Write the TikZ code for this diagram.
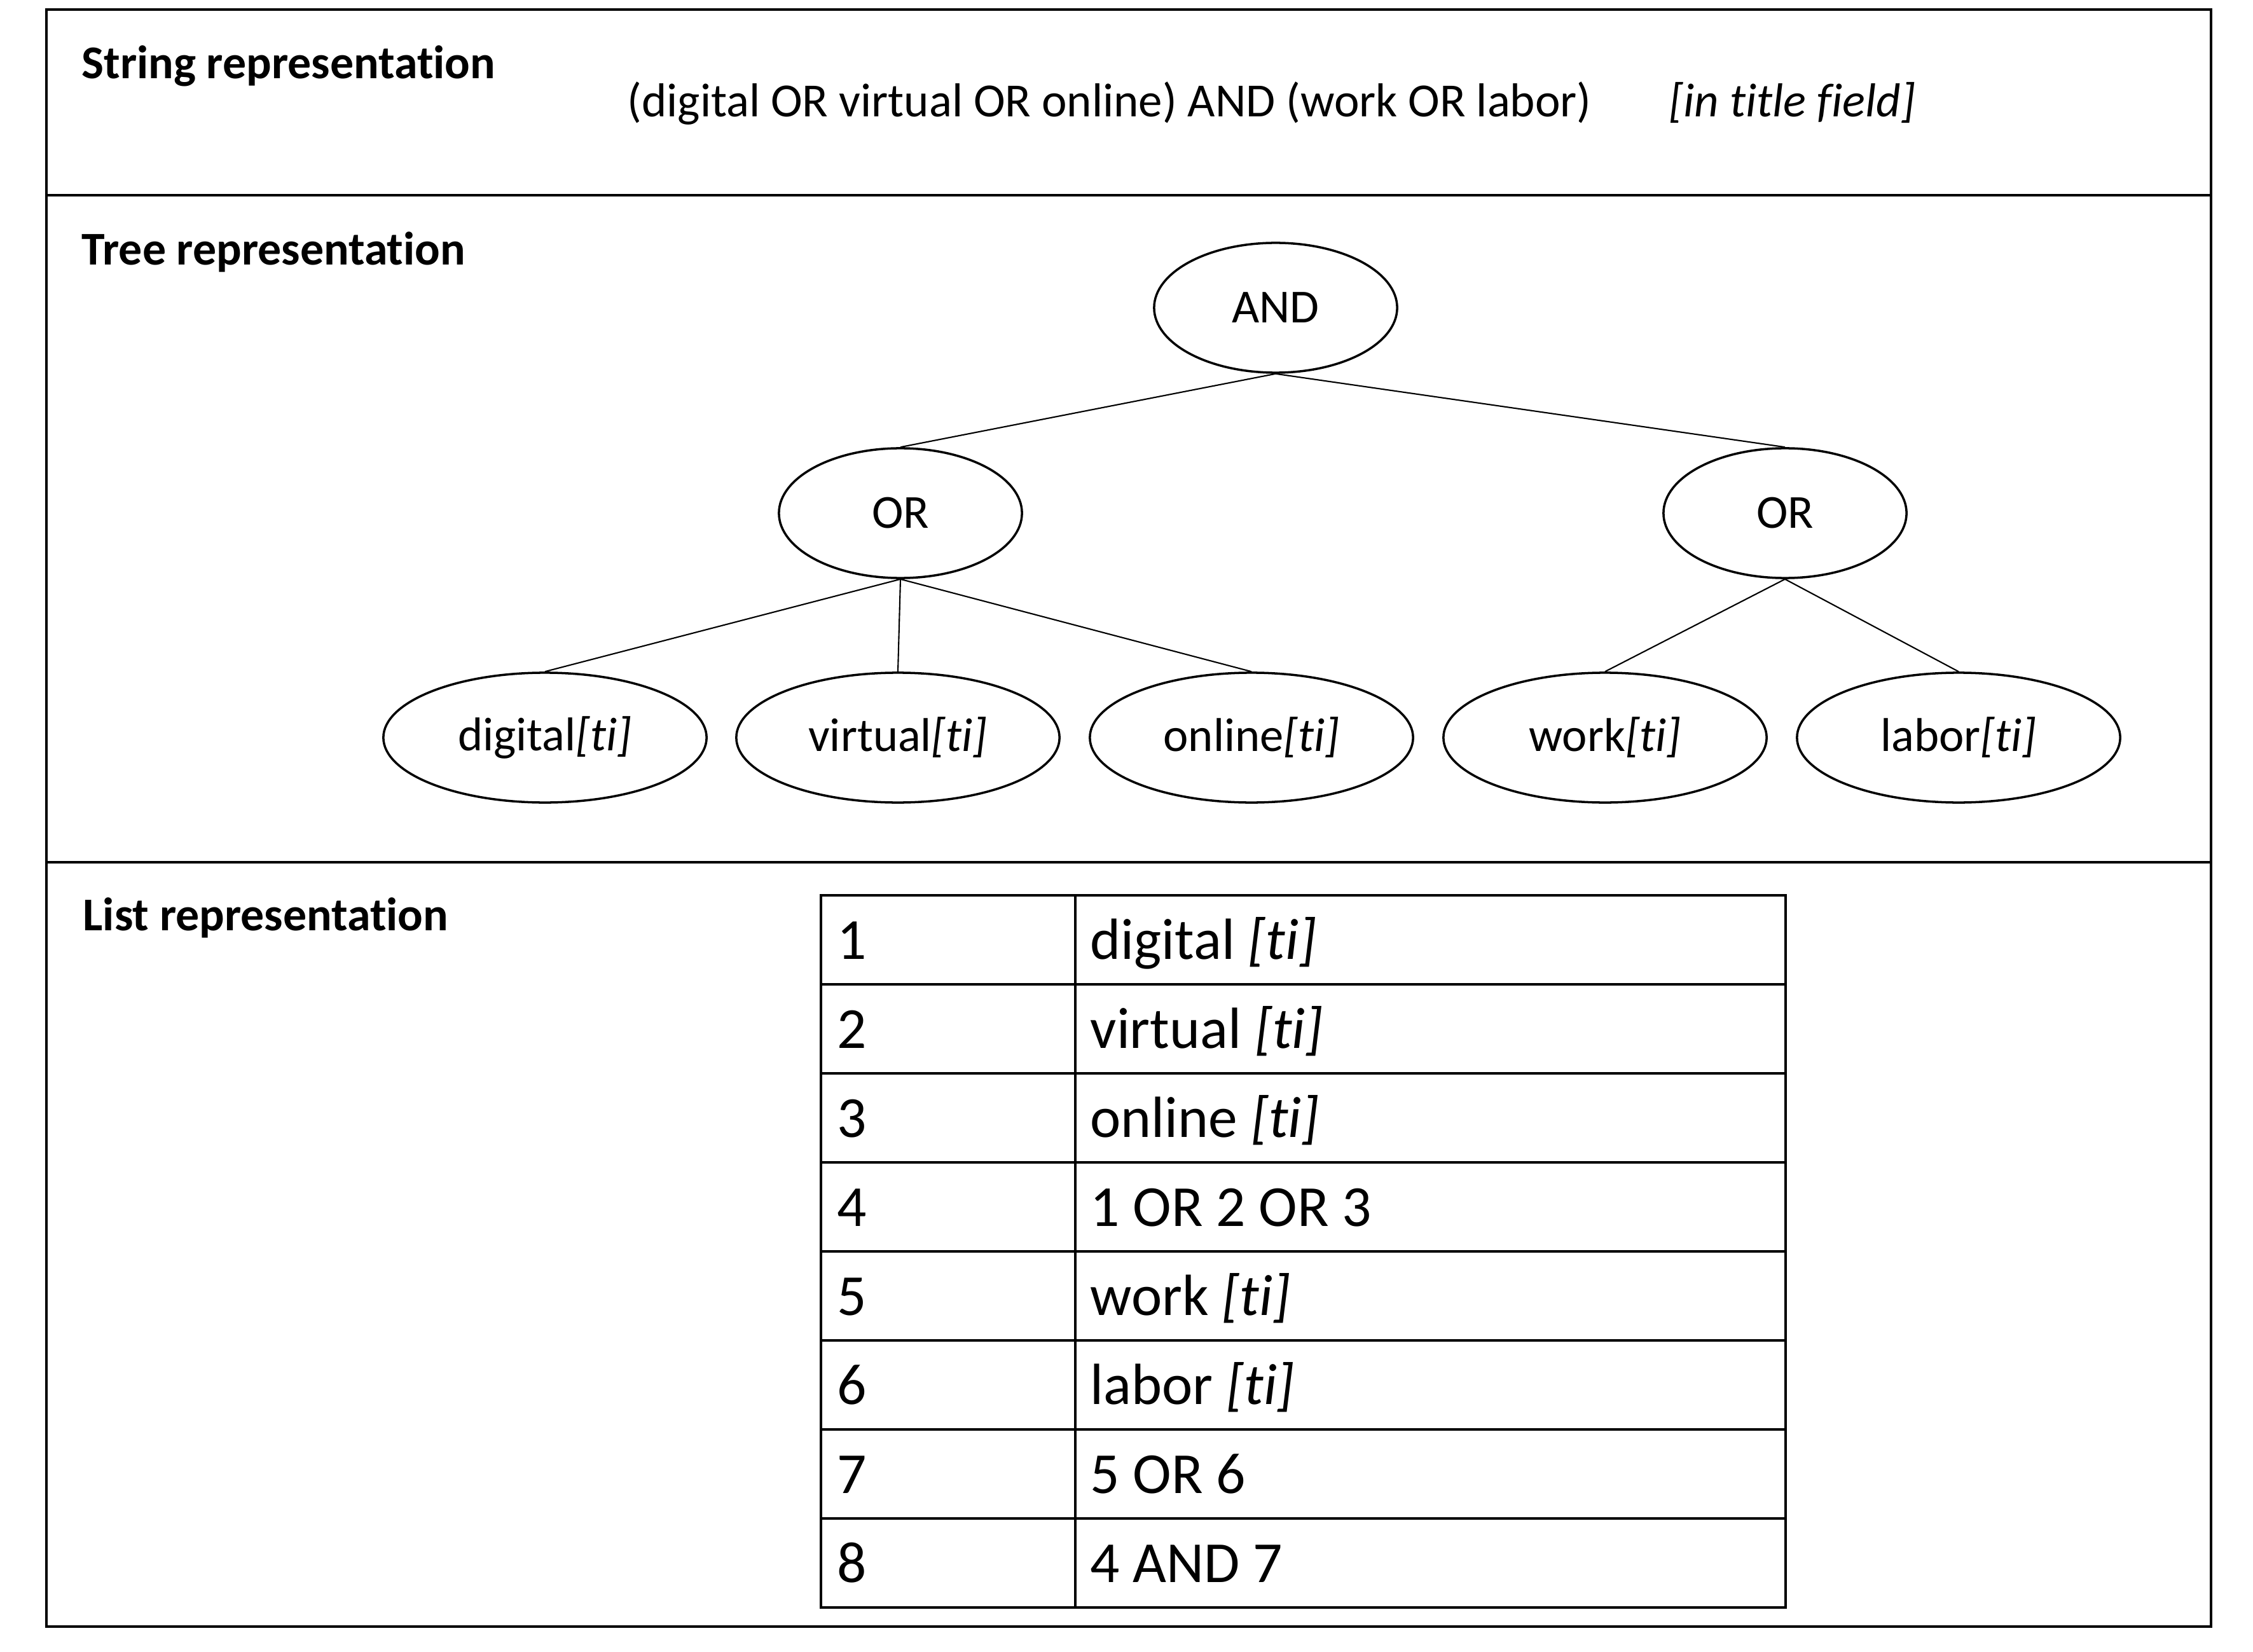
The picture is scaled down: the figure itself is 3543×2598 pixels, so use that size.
\documentclass[tikz,border=0pt]{standalone}
\usepackage{fontspec}
\setmainfont{Carlito}[Ligatures=CommonOff]
\usetikzlibrary{shapes.geometric}
\begin{document}
\begin{tikzpicture}[x=0.01cm,y=-0.01cm,
  frame/.style={line width=1.3pt},
  ttl/.style={anchor=base west,inner sep=0,font=\fontsize{21}{25}\selectfont\bfseries},
  txt/.style={anchor=base west,inner sep=0,font=\fontsize{21.3}{25}\selectfont},
  opnode/.style={draw,ellipse,line width=1pt,inner sep=0,minimum width=3.82cm,minimum height=2.04cm,font=\fontsize{21.2}{25}\selectfont},
  leaf/.style={opnode,minimum width=5.08cm},
  link/.style={line width=0.6pt},
  grid/.style={line width=1.1pt},
  cell/.style={anchor=base west,inner sep=0,font=\fontsize{26}{31}\selectfont}]
\useasboundingbox (0,0) rectangle (3543,2598);
% frame
\draw[frame] (73,15) rectangle (3477,2558);
\draw[frame] (73,307) -- (3477,307);
\draw[frame] (73,1356) -- (3477,1356);
% titles
\node[ttl] (t1) at (128,124) {String representation};
\node[ttl] (t2) at (128,417) {Tree representation};
\node[ttl] (t3) at (130,1463) {List representation};
% string
\node[txt] (s1) at (986,184) {(digital OR virtual OR online) AND (work OR labor)};
\node[txt] (s2) at (2624,184) {\itshape [in title field]};
% tree
\node[opnode] (and) at (2006,484) {AND};
\node[opnode] (or1) at (1416,807) {OR};
\node[opnode] (or2) at (2807,807) {OR};
\node[leaf] (l1) at (857,1160) {digital\textit{[ti]}};
\node[leaf] (l2) at (1412,1160) {virtual\textit{[ti]}};
\node[leaf] (l3) at (1968,1160) {online\textit{[ti]}};
\node[leaf] (l4) at (2524,1160) {work\textit{[ti]}};
\node[leaf] (l5) at (3080,1160) {labor\textit{[ti]}};
\draw[link] (and.south) -- (or1.north);
\draw[link] (and.south) -- (or2.north);
\draw[link] (or1.south) -- (l1.north);
\draw[link] (or1.south) -- (l2.north);
\draw[link] (or1.south) -- (l3.north);
\draw[link] (or2.south) -- (l4.north);
\draw[link] (or2.south) -- (l5.north);
% table
\draw[grid] (1291,1408) rectangle (2808,2528);
\draw[grid] (1691,1408) -- (1691,2528);
\foreach \r in {1,...,7}{\draw[grid] (1291,1408+\r*140) -- (2808,1408+\r*140);}
\node[cell] (n1) at (1316,1508) {1};
\node[cell] (v1) at (1714,1508) {digital \textit{[ti]}};
\node[cell] (n2) at (1316,1648) {2};
\node[cell] (v2) at (1714,1648) {virtual \textit{[ti]}};
\node[cell] (n3) at (1316,1788) {3};
\node[cell] (v3) at (1714,1788) {online \textit{[ti]}};
\node[cell] (n4) at (1316,1928) {4};
\node[cell] (v4) at (1714,1928) {1 OR 2 OR 3};
\node[cell] (n5) at (1316,2068) {5};
\node[cell] (v5) at (1714,2068) {work \textit{[ti]}};
\node[cell] (n6) at (1316,2208) {6};
\node[cell] (v6) at (1714,2208) {labor \textit{[ti]}};
\node[cell] (n7) at (1316,2348) {7};
\node[cell] (v7) at (1714,2348) {5 OR 6};
\node[cell] (n8) at (1316,2488) {8};
\node[cell] (v8) at (1714,2488) {4 AND 7};
\end{tikzpicture}
\end{document}
